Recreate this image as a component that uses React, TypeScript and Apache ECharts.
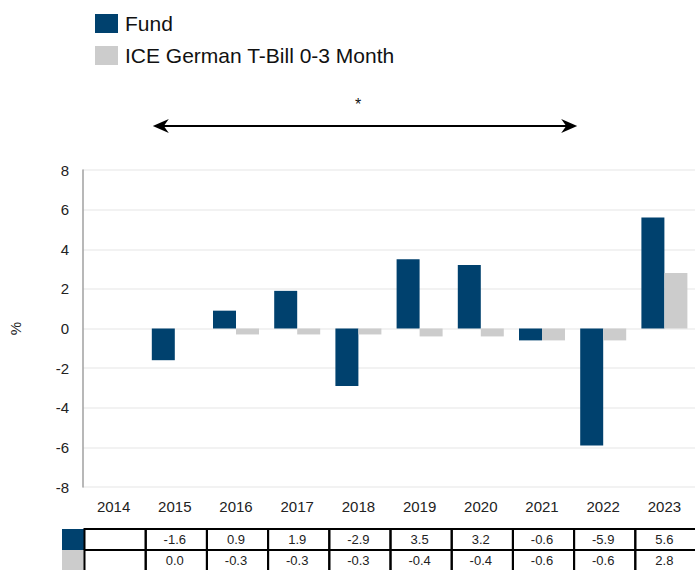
import React, { useEffect, useRef } from "react";
import * as echarts from "echarts";

const categories = ["2014", "2015", "2016", "2017", "2018", "2019", "2020", "2021", "2022", "2023"];
const fundValues: (number | null)[] = [null, -1.6, 0.9, 1.9, -2.9, 3.5, 3.2, -0.6, -5.9, 5.6];
const benchValues: (number | null)[] = [null, 0.0, -0.3, -0.3, -0.3, -0.4, -0.4, -0.6, -0.6, 2.8];
const seriesNames = ["Fund", "ICE German T-Bill 0-3 Month"];
const colors = ["#00416e", "#cccccc"];
const FONT = "Liberation Sans";

echarts.graphic.registerShape(
  "arrowHead",
  echarts.graphic.extendPath("M0 0 L16 -7 L11 0 L16 7 Z", {})
);

const fmt = (v: number | null) => (v === null || v === undefined ? "" : v.toFixed(1));

export default function App() {
  const ref = useRef<HTMLDivElement>(null);
  useEffect(() => {
    if (!ref.current) return;
    const chart = echarts.init(ref.current, null, { renderer: "svg" });
    const tableTop = 529;
    const rowH = 21;
    const rows = [fundValues, benchValues];
    const tableAxis = (gi: number, vals: (number | null)[]) => ({
      type: "category",
      gridIndex: gi,
      data: categories,
      position: "top",
      axisLine: { show: false },
      axisTick: { show: false },
      splitLine: { show: false },
      axisLabel: {
        inside: true,
        margin: 4,
        fontSize: 13,
        color: "#222",
        fontFamily: FONT,
        interval: 0,
        formatter: (_: string, idx: number) => fmt(vals[idx]),
      },
    });
    const option: any = {
      animation: false,
      textStyle: { fontFamily: FONT },
      title: {
        text: "*",
        left: 355,
        top: 96,
        padding: 0,
        textStyle: { fontSize: 16, fontWeight: "normal", color: "#111", fontFamily: FONT },
      },
      legend: {
        orient: "vertical",
        left: 90,
        top: 8,
        itemWidth: 23,
        itemHeight: 19,
        itemGap: 11,
        icon: "rect",
        data: seriesNames,
        textStyle: { fontSize: 21, lineHeight: 20, color: "#111", fontFamily: FONT, padding: [0, 0, 0, 2] },
      },
      grid: [
        { left: 83, right: 0, top: 170, bottom: 83, containLabel: false },
        { left: 83, right: 0, top: tableTop, height: rowH, containLabel: false },
        { left: 83, right: 0, top: tableTop + rowH, height: rowH, containLabel: false },
      ],
      xAxis: [
        {
          type: "category",
          data: categories,
          axisLine: { show: false },
          axisTick: { show: false },
          axisLabel: { fontSize: 15, color: "#222", margin: 12, fontFamily: FONT },
        },
        tableAxis(1, fundValues),
        tableAxis(2, benchValues),
      ],
      yAxis: [
        {
          type: "value",
          min: -8,
          max: 8,
          interval: 2,
          name: "%",
          nameLocation: "middle",
          nameRotate: 90,
          nameGap: 60,
          nameTextStyle: { fontSize: 15, color: "#222", fontFamily: FONT },
          axisLine: { show: true, onZero: false, lineStyle: { color: "#a0a0a0", width: 1.5 } },
          axisTick: { show: false },
          axisLabel: { fontSize: 15, color: "#222", margin: 14, fontFamily: FONT },
          splitLine: { lineStyle: { color: "#eeeeee", width: 1.5 } },
        },
        { type: "value", gridIndex: 1, show: false },
        { type: "value", gridIndex: 2, show: false },
      ],
      series: [
        {
          name: seriesNames[0],
          type: "bar",
          data: fundValues,
          barWidth: 23,
          barGap: "0%",
          itemStyle: { color: colors[0] },
        },
        {
          name: seriesNames[1],
          type: "bar",
          data: benchValues,
          barWidth: 23,
          barGap: "0%",
          itemStyle: { color: colors[1] },
        },
      ],
    };
    chart.setOption(option);

    // table borders + arrow annotation from axis pixel positions
    const centers = categories.map((_, i) => chart.convertToPixel({ xAxisIndex: 0 }, i) as number);
    const colW = centers[1] - centers[0];
    const elements: any[] = [];
    rows.forEach((_vals, r) => {
      const y = tableTop + r * rowH;
      elements.push({
        type: "rect",
        shape: { x: 62, y, width: 22, height: rowH },
        style: { fill: colors[r] },
        z: 10,
      });
      categories.forEach((_, i) => {
        const x0 = centers[i] - colW / 2 + 1.5;
        elements.push({
          type: "rect",
          shape: { x: x0, y, width: colW, height: rowH },
          style: { fill: "none", stroke: "#000", lineWidth: 2 },
          z: 10,
        });
      });
    });

    const arrowY = 126;
    const ax0 = centers[1] - 22;
    const ax1 = centers[8] - 26;
    elements.push({
      type: "line",
      shape: { x1: ax0 + 6, y1: arrowY, x2: ax1 - 6, y2: arrowY },
      style: { stroke: "#000", lineWidth: 2 },
    });
    elements.push({ type: "arrowHead", x: ax0, y: arrowY, style: { fill: "#000" } });
    elements.push({ type: "arrowHead", x: ax1, y: arrowY, scaleX: -1, style: { fill: "#000" } });
    chart.setOption({ graphic: { elements } });

    return () => chart.dispose();
  }, []);
  return <div ref={ref} style={{ width: 695, height: 570, position: "absolute", left: 0, top: 0 }} />;
}
